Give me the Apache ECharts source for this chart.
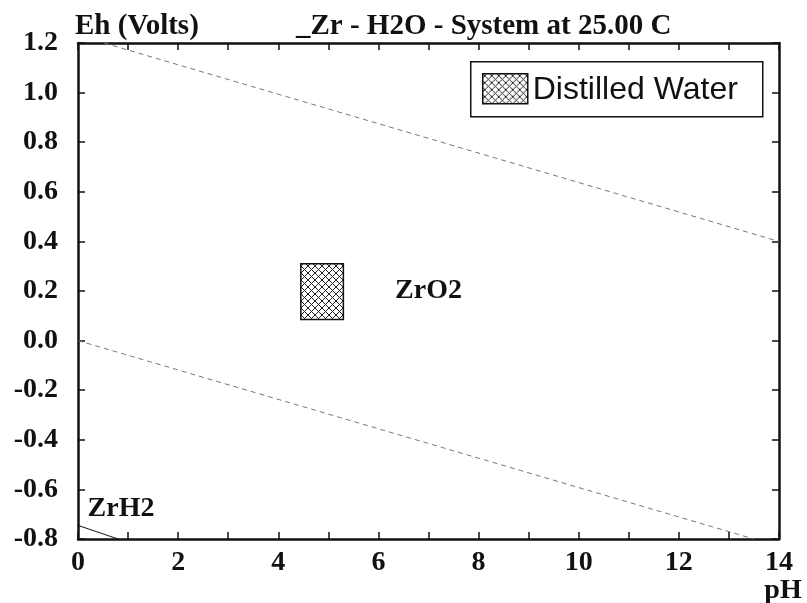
<!DOCTYPE html>
<html>
<head>
<meta charset="UTF-8">
<script src="https://cdn.jsdelivr.net/npm/echarts@6/dist/echarts.min.js"></script>
<style>
  body { margin: 0; background: #fff; }
  #chart { width: 807px; height: 603px; }
</style>
</head>
<body>
<div id="chart"></div>
<script>
// water stability limits (dashed)
const upperWater = [[0.52, 1.2], [14, 0.4]];
const lowerWater = [[0, 0], [13.5, -0.8]];
// ZrO2 / ZrH2 boundary at the lower left
const hydrideLine = [[0, -0.745], [0.8, -0.8]];
// distilled water field: [pH min, pH max, Eh min, Eh max]
const waterBox = [4.45, 5.3, 0.085, 0.31];
const regionNames = ['ZrO2', 'ZrH2'];
const regionPos = [[7.0, 0.2], [0.86, -0.68]];
const xTickLabels = ['0', '2', '4', '6', '8', '10', '12', '14'];

const serif = 'Liberation Serif';

// cross hatch pattern
function makeHatch() {
    const c = document.createElement('canvas');
    c.width = 7; c.height = 7;
    const ctx = c.getContext('2d');
    ctx.fillStyle = '#fff';
    ctx.fillRect(0, 0, 7, 7);
    ctx.strokeStyle = '#222';
    ctx.lineWidth = 1;
    ctx.beginPath();
    ctx.moveTo(0, 0); ctx.lineTo(7, 7);
    ctx.moveTo(7, 0); ctx.lineTo(0, 7);
    ctx.stroke();
    return c;
}
const hatch = { image: makeHatch(), repeat: 'repeat' };

const chart = echarts.init(document.getElementById('chart'));

const axisLine = { show: true, onZero: false, lineStyle: { color: '#111', width: 2.5 } };
const tick = { show: true, inside: true, length: 7, lineStyle: { color: '#111', width: 1.5 } };

const option = {
    animation: false,
    backgroundColor: '#fff',
    title: {
        text: '_Zr - H2O - System at 25.00 C',
        left: 296, top: 12, padding: 0,
        textStyle: { fontFamily: serif, fontSize: 29, fontWeight: 'bold', color: '#111' }
    },
    grid: { left: 78, right: 28, top: 43, bottom: 64 },
    xAxis: [{
        type: 'value', min: 0, max: 14, interval: 1,
        axisLine: axisLine, axisTick: tick, splitLine: { show: false },
        axisLabel: {
            margin: 10, fontFamily: serif, fontSize: 28, fontWeight: 'bold', color: '#111',
            formatter: v => (v % 2 === 0 ? xTickLabels[v / 2] : '')
        }
    }, {
        type: 'value', min: 0, max: 14, interval: 1, position: 'top',
        axisLine: axisLine, axisTick: tick, splitLine: { show: false },
        axisLabel: { show: false }
    }],
    yAxis: [{
        type: 'value', min: -0.8, max: 1.2, interval: 0.2,
        axisLine: axisLine, axisTick: tick, splitLine: { show: false },
        axisLabel: {
            margin: 20, fontFamily: serif, fontSize: 28, fontWeight: 'bold', color: '#111',
            formatter: v => v.toFixed(1)
        }
    }, {
        type: 'value', min: -0.8, max: 1.2, interval: 0.2, position: 'right',
        axisLine: axisLine, axisTick: tick, splitLine: { show: false },
        axisLabel: { show: false }
    }],
    graphic: [
        {
            type: 'text', left: 75, top: 12,
            style: { text: 'Eh (Volts)', font: 'bold 29px "Liberation Serif"', fill: '#111' }
        },
        {
            type: 'text', x: 783, y: 577,
            style: { text: 'pH', font: 'bold 28px "Liberation Serif"', fill: '#111', align: 'center', verticalAlign: 'top' }
        },
        {
            type: 'group', left: 470, top: 61,
            children: [
                { type: 'rect', shape: { x: 0, y: 0, width: 292, height: 55 },
                  style: { fill: '#fff', stroke: '#111', lineWidth: 1.5 } },
                { type: 'rect', shape: { x: 12, y: 12, width: 45, height: 30 },
                  style: { fill: hatch, stroke: '#111', lineWidth: 1.5 } },
                { type: 'text', x: 62, y: 28,
                  style: { text: 'Distilled Water', font: '32px "Liberation Sans"', fill: '#111', verticalAlign: 'middle' } }
            ]
        }
    ],
    series: [
        {
            type: 'line', data: upperWater, symbol: 'none',
            lineStyle: { color: '#777', width: 1, type: [5, 4] }
        },
        {
            type: 'line', data: lowerWater, symbol: 'none',
            lineStyle: { color: '#777', width: 1, type: [5, 4] }
        },
        {
            type: 'line', data: hydrideLine, symbol: 'none',
            lineStyle: { color: '#111', width: 1 }
        },
        {
            type: 'custom', name: 'Distilled Water',
            data: [waterBox],
            renderItem: function (params, api) {
                const p0 = api.coord([api.value(0), api.value(3)]);
                const p1 = api.coord([api.value(1), api.value(2)]);
                return {
                    type: 'rect',
                    shape: { x: p0[0], y: p0[1], width: p1[0] - p0[0], height: p1[1] - p0[1] },
                    style: { fill: hatch, stroke: '#111', lineWidth: 1.5 }
                };
            }
        },
        {
            type: 'scatter', symbolSize: 0,
            itemStyle: { opacity: 1 },
            data: regionNames.map((n, i) => ({ name: n, value: regionPos[i] })),
            label: {
                show: true, position: 'inside', formatter: '{b}',
                fontFamily: serif, fontSize: 28, fontWeight: 'bold', color: '#111', opacity: 1
            }
        }
    ]
};

chart.setOption(option);
</script>
</body>
</html>
